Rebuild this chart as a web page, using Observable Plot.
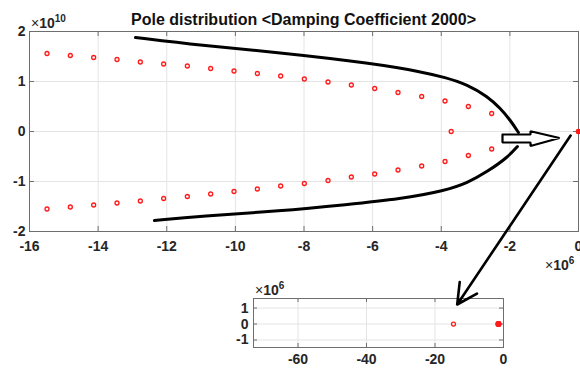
<!DOCTYPE html>
<html><head><meta charset="utf-8">
<script src="https://cdn.jsdelivr.net/npm/d3@7"></script>
<script src="https://cdn.jsdelivr.net/npm/@observablehq/plot@0.6"></script>
<style>
body{margin:0;background:#fff;}
#wrap{position:relative;width:580px;height:369px;overflow:hidden;font-family:"Liberation Sans",Arial,sans-serif;background:#fff;}
#wrap svg{position:absolute;left:0;top:0;background:transparent;}
.lbl{position:absolute;font-size:14px;line-height:14px;color:#262626;white-space:nowrap;}
.lbl b{font-weight:bold;}
.lbl sup{font-size:10px;font-weight:bold;position:relative;top:-6px;vertical-align:baseline;line-height:0;}
#title{position:absolute;left:0;top:11.5px;width:607px;text-align:center;font-weight:bold;font-size:16px;line-height:16px;color:#111;white-space:nowrap;}
</style></head>
<body>
<div id="wrap">
  <div id="inset"></div>
  <div id="main"></div>
  <div id="title">Pole distribution &lt;Damping Coefficient 2000&gt;</div>
  <div class="lbl" style="left:31px;top:16px">×<b>10</b><sup>10</sup></div>
  <div class="lbl" style="left:545px;top:258px">×<b>10</b><sup>6</sup></div>
  <div class="lbl" style="left:255px;top:283px">×<b>10</b><sup>6</sup></div>
</div>
<script>
// ---- main chart data (x in 1e6, y in 1e10) ----
const xTicks = [-16, -14, -12, -10, -8, -6, -4, -2, 0];
const yTicks = [-2, -1, 0, 1, 2];
const poleRe = [-15.49, -14.81, -14.13, -13.45, -12.77, -12.09, -11.40, -10.72, -10.04, -9.36,
                -8.68, -7.99, -7.30, -6.62, -5.94, -5.26, -4.57, -3.89, -3.21, -2.53];
const poleImUpper = [1.56, 1.52, 1.48, 1.44, 1.39, 1.35, 1.31, 1.26, 1.21, 1.16,
                     1.11, 1.05, 0.99, 0.93, 0.86, 0.78, 0.70, 0.61, 0.50, 0.36];
const poleImLower = [-1.55, -1.51, -1.47, -1.43, -1.39, -1.34, -1.30, -1.25, -1.20, -1.15,
                     -1.09, -1.04, -0.98, -0.91, -0.85, -0.77, -0.69, -0.60, -0.48, -0.35];
const realPoleRe = [-3.71];
const realPoleIm = [0];
const originPoleRe = [0, 0];
const originPoleIm = [0, 0];
// annotation shapes (in chart units)
const upperCurveX = [-12.91, -11.02, -8.69, -5.97, -4.61, -3.88, -3.24, -2.65, -2.27, -1.98, -1.75];
const upperCurveY = [1.88, 1.72, 1.58, 1.36, 1.20, 1.08, 0.94, 0.70, 0.46, 0.22, -0.02];
const lowerCurveX = [-12.36, -11.02, -8.69, -6.73, -5.19, -3.88, -3.24, -2.65, -2.07, -1.78];
const lowerCurveY = [-1.78, -1.69, -1.59, -1.46, -1.35, -1.18, -1.03, -0.80, -0.52, -0.30];
const blockArrowX = [-2.215, -1.399, -1.399, -0.554, -1.399, -1.399, -2.215, -2.215];
const blockArrowY = [-0.06, -0.06, 0.006, -0.13, -0.29, -0.22, -0.22, -0.06];
const pointerFrom = [-0.23, -0.08];
const pointerTo = [-3.535, -3.46];
// ---- inset data ----
const insetXTicks = [-60, -40, -20, 0];
const insetYTicks = [-1, 0, 1];
const insetPoleRe = [-14.6];
const insetPoleIm = [0];
const insetClusterRe = [-1.5, -1.5, -1.4];
const insetClusterIm = [0, 0, 0];

const font = '"Liberation Sans", Arial, sans-serif';
const gridColor = "#e4e4e4";
const axisColor = "#6e6e6e";
const txt = "#262626";
const fmt = d => String(d);

const upper = poleRe.map((x, i) => ({x, y: poleImUpper[i]}));
const lower = poleRe.map((x, i) => ({x, y: poleImLower[i]}));
const realP = realPoleRe.map((x, i) => ({x, y: realPoleIm[i]}));
const originP = originPoleRe.map((x, i) => ({x, y: originPoleIm[i]}));
const uc = upperCurveX.map((x, i) => ({x, y: upperCurveY[i]}));
const lc = lowerCurveX.map((x, i) => ({x, y: lowerCurveY[i]}));
const ba = blockArrowX.map((x, i) => ({x, y: blockArrowY[i]}));

const dotOpts = {x: "x", y: "y", r: 2, stroke: "#ff1a1a", strokeWidth: 1.3, fill: "#fff0f0"};

const W = 580, H = 369;
const mL = 29, mR = 2, mT = 31, mB = 138;
const pw = W - mL - mR, ph = H - mT - mB;
const tk = 5;

const main = Plot.plot({
  width: W, height: H,
  marginLeft: mL, marginRight: mR, marginTop: mT, marginBottom: mB,
  x: {domain: [-16, 0], label: null},
  y: {domain: [-2, 2], label: null},
  style: {background: "transparent", fontFamily: font, fontSize: "14px", color: txt, overflow: "visible"},
  marks: [
    Plot.gridX(xTicks, {stroke: gridColor, strokeOpacity: 1}),
    Plot.gridY(yTicks, {stroke: gridColor, strokeOpacity: 1}),
    Plot.tickX(xTicks, {x: d => d, insetTop: ph - tk, stroke: axisColor}),
    Plot.tickX(xTicks, {x: d => d, insetBottom: ph - tk, stroke: axisColor}),
    Plot.tickY(yTicks, {y: d => d, insetRight: pw - tk, stroke: axisColor}),
    Plot.tickY(yTicks, {y: d => d, insetLeft: pw - tk, stroke: axisColor}),
    Plot.frame({stroke: axisColor}),
    Plot.axisX(xTicks, {tickSize: 0, tickPadding: 10, tickFormat: fmt, fontSize: 14, fontWeight: "bold", fill: txt, label: null}),
    Plot.axisY(yTicks, {tickSize: 0, tickPadding: 4, tickFormat: fmt, fontSize: 14, fontWeight: "bold", fill: txt, label: null}),
    Plot.dot(upper, dotOpts),
    Plot.dot(lower, dotOpts),
    Plot.dot(realP, dotOpts),
    Plot.dot(originP, {...dotOpts, fill: "#ff1a1a"}),
    Plot.line(uc, {x: "x", y: "y", curve: "basis", stroke: "#000", strokeWidth: 3}),
    Plot.line(lc, {x: "x", y: "y", curve: "basis", stroke: "#000", strokeWidth: 3}),
    Plot.line(ba, {x: "x", y: "y", fill: "#fff", stroke: "#000", strokeWidth: 2.2, strokeLinejoin: "miter"}),
    Plot.arrow([0], {x1: () => pointerFrom[0], y1: () => pointerFrom[1], x2: () => pointerTo[0], y2: () => pointerTo[1],
      stroke: "#000", strokeWidth: 2.6, headLength: 13, headAngle: 55, bend: 0})
  ]
});
document.getElementById("main").appendChild(main);

const iL = 253, iR = 77, iT = 298, iB = 22;
const ipw = W - iL - iR, iph = H - iT - iB;
const itk = 4;
const inset = Plot.plot({
  width: W, height: H,
  marginLeft: iL, marginRight: iR, marginTop: iT, marginBottom: iB,
  x: {domain: [-73, 0], label: null},
  y: {domain: [-1.47, 1.6], label: null},
  style: {background: "transparent", fontFamily: font, fontSize: "14px", color: txt, overflow: "visible"},
  marks: [
    Plot.gridX(insetXTicks, {stroke: gridColor, strokeOpacity: 1}),
    Plot.gridY(insetYTicks, {stroke: gridColor, strokeOpacity: 1}),
    Plot.tickX(insetXTicks, {x: d => d, insetTop: iph - itk, stroke: axisColor}),
    Plot.tickX(insetXTicks, {x: d => d, insetBottom: iph - itk, stroke: axisColor}),
    Plot.tickY(insetYTicks, {y: d => d, insetRight: ipw - itk, stroke: axisColor}),
    Plot.tickY(insetYTicks, {y: d => d, insetLeft: ipw - itk, stroke: axisColor}),
    Plot.frame({stroke: axisColor}),
    Plot.axisX(insetXTicks, {tickSize: 0, tickPadding: 7, tickFormat: fmt, fontSize: 14, fontWeight: "bold", fill: txt, label: null}),
    Plot.axisY(insetYTicks, {tickSize: 0, tickPadding: 5, tickFormat: fmt, fontSize: 14, fontWeight: "bold", fill: txt, label: null}),
    Plot.dot(insetPoleRe.map((x, i) => ({x, y: insetPoleIm[i]})), dotOpts),
    Plot.dot(insetClusterRe.map((x, i) => ({x, y: insetClusterIm[i]})), {...dotOpts, r: 2.3, fill: "#ff1a1a"})
  ]
});
document.getElementById("inset").appendChild(inset);
</script>
</body></html>
